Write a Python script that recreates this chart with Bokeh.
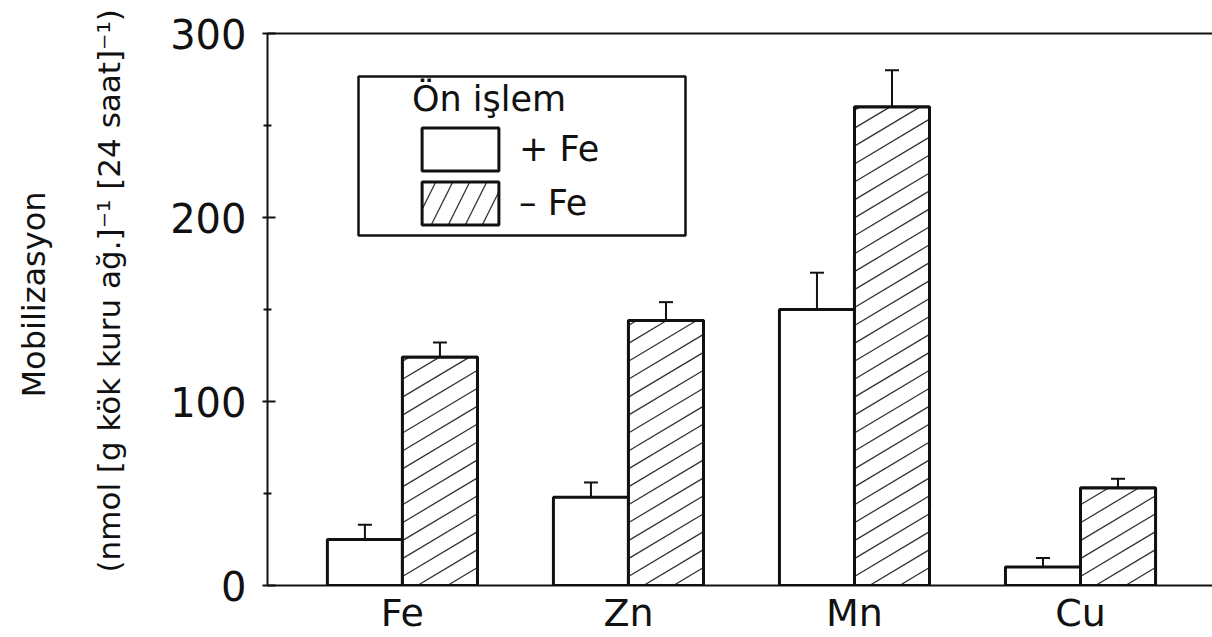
import numpy as np
from bokeh.plotting import figure
from bokeh.models import (Range1d, FixedTicker, LinearAxis, Whisker, TeeHead, Title,
                          ColumnDataSource, Legend, LegendItem, BoxAnnotation)
from bokeh.embed import file_html
from bokeh.resources import INLINE

# ---- data ----
categories = ["Fe", "Zn", "Mn", "Cu"]
plus_fe = [25, 48, 150, 10]          # "+ Fe" pre-treatment
plus_fe_err = [8, 8, 20, 5]
minus_fe = [124, 144, 260, 53]       # "– Fe" pre-treatment
minus_fe_err = [8, 10, 20, 5]
y_ticks = [0, 100, 200, 300]
y_minor_ticks = [50, 150, 250]
legend_title = "Ön işlem"
series_labels = ["+ Fe", "– Fe"]
y_label_lines = ["Mobilizasyon", "(nmol [g kök kuru ağ.]⁻¹ [24 saat]⁻¹)"]

# ---- layout / style ----
FONT = "DejaVu Sans"
INK = "#111111"
BAR_W = 0.332
W, H = 1212, 637
BL, BR, BT, BB = 267, 0, 33, 50
X_START, X_END = -0.597, 3.584
Y_START, Y_END = 0, 300
PX_X = (W - BL - BR) / (X_END - X_START)   # screen px per x unit
PX_Y = (H - BT - BB) / (Y_END - Y_START)   # screen px per y unit

idx = np.arange(len(categories))
src = ColumnDataSource(dict(
    x_plus=idx - BAR_W / 2,
    x_minus=idx + BAR_W / 2,
    plus=plus_fe,
    minus=minus_fe,
    plus_top=np.array(plus_fe) + np.array(plus_fe_err),
    minus_top=np.array(minus_fe) + np.array(minus_fe_err),
))


def hatch_lines(x_lefts, tops, width, slope=0.6, gap=18.0):
    """Flat diagonal hatching inside each bar (slope / gap in screen px)."""
    wpx = width * PX_X
    out = dict(x0=[], y0=[], x1=[], y1=[])
    for xl, top in zip(x_lefts, tops):
        hpx = top * PX_Y
        k0 = int(np.floor(-slope * wpx / gap)) - 1
        k1 = int(np.ceil(hpx / gap)) + 1
        for k in range(k0, k1):
            c = k * gap + gap / 2
            a = max(0.0, -c / slope)
            b = min(wpx, (hpx - c) / slope)
            if b - a < 2:
                continue
            out["x0"].append(xl + a / PX_X)
            out["y0"].append((c + slope * a) / PX_Y)
            out["x1"].append(xl + b / PX_X)
            out["y1"].append((c + slope * b) / PX_Y)
    return out


hatch_src = ColumnDataSource(hatch_lines(idx, minus_fe, BAR_W))

p = figure(width=W, height=H,
           x_range=Range1d(X_START, X_END), y_range=Range1d(Y_START, Y_END),
           output_backend="svg", toolbar_location=None,
           min_border_left=BL, min_border_right=BR,
           min_border_top=BT, min_border_bottom=BB)
p.outline_line_color = None
p.xgrid.grid_line_color = None
p.ygrid.grid_line_color = None
p.background_fill_color = "white"
p.border_fill_color = "white"

r_plus = p.vbar(x="x_plus", top="plus", bottom=0, width=BAR_W, source=src,
                fill_color="white", line_color=INK, line_width=3)
# hatched series: this renderer supplies the legend swatch; it is covered below
r_minus_key = p.vbar(x="x_minus", top="minus", bottom=0, width=BAR_W, source=src,
                     fill_color="white", line_color=INK, line_width=3,
                     hatch_pattern="/", hatch_color="#333333", hatch_weight=1.3,
                     hatch_scale=34)
p.vbar(x="x_minus", top="minus", bottom=0, width=BAR_W, source=src,
       fill_color="white", line_color=None)
p.segment(x0="x0", y0="y0", x1="x1", y1="y1", source=hatch_src,
          line_color="#333333", line_width=1.3)
p.vbar(x="x_minus", top="minus", bottom=0, width=BAR_W, source=src,
       fill_color=None, line_color=INK, line_width=3)

for base, low, up in (("x_plus", "plus", "plus_top"), ("x_minus", "minus", "minus_top")):
    p.add_layout(Whisker(base=base, lower=low, upper=up, source=src,
                         line_color=INK, line_width=2,
                         upper_head=TeeHead(size=14, line_width=2, line_color=INK),
                         lower_head=None))

# x axis
xa = p.xaxis[0]
xa.ticker = FixedTicker(ticks=list(idx))
xa.major_label_overrides = {int(i): c for i, c in zip(idx, categories)}
xa.major_tick_line_color = None
xa.major_tick_out = 0
xa.major_tick_in = 0
xa.minor_tick_line_color = None
xa.minor_tick_out = 0
xa.axis_line_width = 2
xa.axis_line_color = INK
xa.major_label_text_font = FONT
xa.major_label_text_font_size = "38px"
xa.major_label_text_color = INK
xa.major_label_standoff = 5

# y axis
ya = p.yaxis[0]
ya.ticker = FixedTicker(ticks=y_ticks, minor_ticks=y_minor_ticks)
ya.axis_line_width = 2
ya.axis_line_color = INK
ya.major_tick_in = 8
ya.major_tick_out = 5
ya.major_tick_line_width = 2
ya.major_tick_line_color = INK
ya.minor_tick_in = 4
ya.minor_tick_out = 4
ya.minor_tick_line_width = 2
ya.minor_tick_line_color = INK
ya.major_label_text_font = FONT
ya.major_label_text_font_size = "40px"
ya.major_label_text_color = INK
ya.major_label_standoff = 16

# top frame line
p.add_layout(LinearAxis(ticker=FixedTicker(ticks=[]), axis_line_width=2,
                        axis_line_color=INK, major_tick_line_color=None,
                        minor_tick_line_color=None, major_tick_out=0, major_tick_in=0,
                        major_label_text_font_size="0px"), "above")

# y axis title: two lines as left-side titles (inner line added first)
p.add_layout(Title(text=y_label_lines[1], align="left", vertical_align="top",
                   offset=13, standoff=77, text_font=FONT, text_font_size="31px",
                   text_font_style="normal", text_color=INK), "left")
p.add_layout(Title(text=y_label_lines[0], align="left", vertical_align="bottom",
                   offset=188, standoff=0, text_font=FONT, text_font_size="32px",
                   text_font_style="normal", text_color=INK), "left")

# legend
legend = Legend(items=[LegendItem(label=series_labels[0], renderers=[r_plus]),
                       LegendItem(label=series_labels[1], renderers=[r_minus_key])],
                title=legend_title, location=(145, 355), margin=0, padding=10,
                title_text_font=FONT, title_text_font_size="35px",
                title_text_font_style="normal", title_text_color=INK,
                title_standoff=3,
                label_text_font=FONT, label_text_font_size="35px",
                label_text_color=INK,
                glyph_width=96, glyph_height=54, label_height=54,
                label_standoff=11, spacing=-3,
                border_line_color=None, background_fill_alpha=0)
p.add_layout(legend)

p.add_layout(BoxAnnotation(left=91, right=418, bottom=350, top=509,
                           left_units="screen", right_units="screen",
                           bottom_units="screen", top_units="screen",
                           fill_alpha=0, line_color=INK, line_width=2.5,
                           line_alpha=1))

open("out.html", "w").write(file_html(p, INLINE))
